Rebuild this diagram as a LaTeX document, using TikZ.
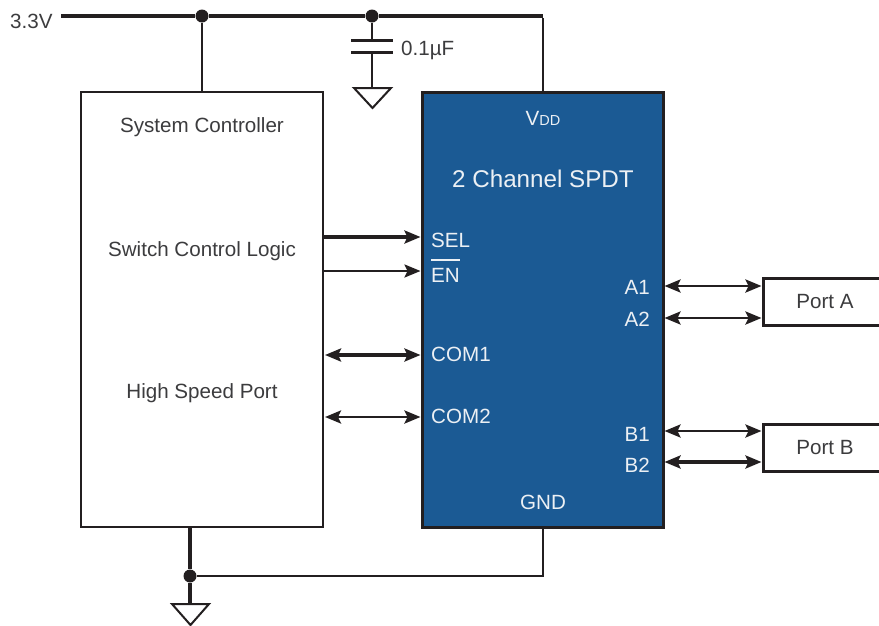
\documentclass[tikz,border=0pt]{standalone}
\usepackage{fontspec}
\setmainfont{Liberation Sans}
\usetikzlibrary{arrows.meta}
\definecolor{ink}{HTML}{231F20}
\definecolor{chip}{HTML}{1B5A94}
\definecolor{label}{HTML}{3C3C3E}
\definecolor{chiptext}{HTML}{ECF0F4}
\tikzset{
  wire/.style={draw=ink,line width=2.8pt},
  heavy/.style={draw=ink,line width=3.7pt},
  thin wire/.style={draw=ink,line width=2.2pt},
  tip/.tip={Stealth[length=16pt,width=13pt,inset=3pt]},
  box/.style={draw=ink,line width=2.8pt,fill=white,inner sep=0pt,outer sep=0pt},
  chipbox/.style={draw=ink,line width=3pt,fill=chip,inner sep=0pt,outer sep=0pt},
  portbox/.style={draw=ink,line width=3pt,fill=white,inner sep=0pt,outer sep=0pt,text=label,font=\fontsize{20.6}{20}\selectfont},
  dotn/.style={circle,fill=ink,inner sep=0pt,minimum size=13pt},
  gndn/.style={draw=ink,line width=2pt,fill=white,line join=miter},
  lbl/.style={text=label,font=\fontsize{20.6}{20}\selectfont,inner sep=0pt},
  pin/.style={text=chiptext,font=\fontsize{20.6}{20}\selectfont,inner sep=0pt},
}
\begin{document}
\begin{tikzpicture}[x=1pt,y=-1pt]
\useasboundingbox (0,0) rectangle (879,625);
\clip (0,0) rectangle (879,625);
% blocks
\node[box,minimum width=242pt,minimum height=435pt] (ctl) at (202,309.5) {};
\node[chipbox,minimum width=241pt,minimum height=435pt] (dev) at (542.5,309.5) {};
\node[portbox,minimum width=124pt,minimum height=47pt] (pa) at (825,301.5) {\raisebox{0pt}{Port A}};
\node[portbox,minimum width=124pt,minimum height=47pt] (pb) at (825,447.5) {Port B};
% rail points
\coordinate (vin) at (61,16);
\node[dotn] (j1) at (202,16) {};
\node[dotn] (j2) at (372,16) {};
\coordinate (vc) at (543,16);
\coordinate (capt) at (372,40.5);
\coordinate (capb) at (372,52.5);
\coordinate (g1) at (372,88);
\node[dotn] (j3) at (190,576) {};
\coordinate (g2) at (190,604);
\coordinate (gc) at (543,576);
% power and ground
\draw[heavy] (vin) -- (j1) -- (j2) -- (vc);
\draw[wire] ([yshift=-1.85pt]vc) -- (dev.north -| vc);
\draw[wire] (j1) -- (ctl.north -| j1);
\draw[wire] (j2) -- (capt);
\draw[wire] (capb) -- (g1);
\draw[draw=ink,line width=2.5pt] (351,40.5) -- (393,40.5);
\draw[draw=ink,line width=3.7pt] (351,52.5) -- (393,52.5);
\draw[gndn] (354,88) -- (391,88) -- (372.5,108) -- cycle;
\draw[heavy] (ctl.south -| j3) -- (j3) -- (g2);
\draw[wire] (j3) -- (gc) -- (dev.south -| gc);
\draw[gndn] (172,604) -- (209,604) -- (190.5,625) -- cycle;
% signal endpoints
\foreach \n/\y in {sel/237,en/271,coma/355,comb/417}{
  \coordinate (\n L) at (ctl.east |- 0,\y);
  \coordinate (\n R) at (dev.west |- 0,\y);
}
\foreach \n/\y/\p in {aa/286/pa,ab/318/pa,ba/431/pb,bb/462/pb}{
  \coordinate (\n L) at (dev.east |- 0,\y);
  \coordinate (\n R) at (\p.west |- 0,\y);
}
\draw[heavy,-{tip},shorten >=1.5pt] (selL) -- (selR);
\draw[thin wire,-{tip},shorten >=1.5pt] (enL) -- (enR);
\draw[heavy,{tip}-{tip},shorten >=1.5pt,shorten <=2pt] (comaL) -- (comaR);
\draw[wire,{tip}-{tip},shorten >=1.5pt,shorten <=2pt] (combL) -- (combR);
\draw[wire,{tip}-{tip},shorten >=1.5pt,shorten <=1.5pt] (aaL) -- (aaR);
\draw[wire,{tip}-{tip},shorten >=1.5pt,shorten <=1.5pt] (abL) -- (abR);
\draw[wire,{tip}-{tip},shorten >=1.5pt,shorten <=1.5pt] (baL) -- (baR);
\draw[heavy,{tip}-{tip},shorten >=1.5pt,shorten <=1.5pt] (bbL) -- (bbR);
% labels
\node[lbl,anchor=west] (t33) at (10,21) {3.3V};
\node[lbl,anchor=west] (tcap) at (401,50) {0.1µF};
\node[lbl] (tsc) at (202,127) {System Controller};
\node[lbl] (tsw) at (202,251) {Switch Control Logic};
\node[lbl] (ths) at (202,393) {High Speed Port};
\node[pin] (tvdd) at (543,118) {V\fontsize{14.5}{14}\selectfont DD};
\node[text=chiptext,font=\fontsize{24.2}{24}\selectfont,inner sep=0pt] (ttl) at (543,179) {2 Channel SPDT};
\node[pin,anchor=west] (tsel) at (431,240) {SEL};
\node[pin,anchor=west] (ten) at (431,275) {EN};
\draw[draw=chiptext,line width=2pt] (ten.west |- 0,260) -- (ten.east |- 0,260);
\node[pin,anchor=west] (tc1) at (431,354) {COM1};
\node[pin,anchor=west] (tc2) at (431,416) {COM2};
\node[pin,anchor=east] (ta1) at (650,287) {A1};
\node[pin,anchor=east] (ta2) at (650,319) {A2};
\node[pin,anchor=east] (tb1) at (650,434) {B1};
\node[pin,anchor=east] (tb2) at (650,465) {B2};
\node[pin] (tgnd) at (543,502) {GND};
\end{tikzpicture}
\end{document}
